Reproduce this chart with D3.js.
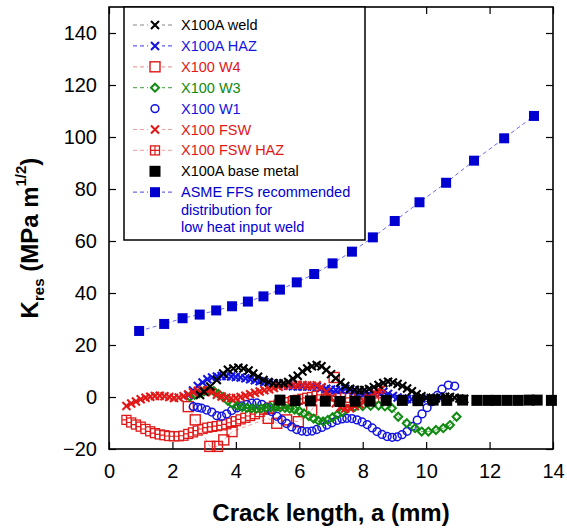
<!DOCTYPE html>
<html>
<head>
<meta charset="utf-8">
<script src="https://cdn.jsdelivr.net/npm/d3@7"></script>
<style>
  body { margin: 0; background: #fff; }
  svg { font-family: "Liberation Sans", Arial, sans-serif; }
</style>
</head>
<body>
<div id="chart"></div>
<script>
// axis ticks
const xTicks = [0, 2, 4, 6, 8, 10, 12, 14];
const yTicks = [-20, 0, 20, 40, 60, 80, 100, 120, 140];

// data: [crack length a (mm), Kres (MPa m^1/2)]
const weld = [[2.87,0.8],[3.0,2],[3.19,4],[3.4,6.5],[3.6,9],[3.75,10.5],[3.92,11],[4.08,11.3],[4.24,11],[4.4,10.2],[4.55,9],[4.7,7.8],[4.87,6.5],[5.03,5.8],[5.18,5.3],[5.35,5.2],[5.5,5.3],[5.65,5.8],[5.8,7],[5.95,8.2],[6.1,9.8],[6.25,11],[6.4,11.8],[6.55,12.3],[6.7,11.8],[6.85,10.4],[7.0,8.8],[7.15,7.2],[7.3,5.6],[7.45,4.2],[7.6,3.2],[7.75,2.8],[7.9,2.6],[8.05,2.7],[8.2,3.1],[8.35,3.8],[8.5,4.6],[8.65,5.4],[8.8,5.9],[8.95,5.6],[9.1,5],[9.25,4.2],[9.4,3.3],[9.55,2.2],[9.7,1.1],[9.85,0.3],[10.0,-0.3],[10.15,-0.5],[10.3,-0.5],[10.45,-0.2],[10.6,0.1],[10.75,0],[10.9,-0.3],[11.05,-0.6],[11.2,-0.8]];
const haz = [[2.5,0.8],[2.65,2.5],[2.8,4.2],[2.95,5.6],[3.1,6.8],[3.25,7.5],[3.4,7.9],[3.55,8.1],[3.7,8.1],[3.85,7.9],[4.0,7.7],[4.15,7.5],[4.3,7.2],[4.45,6.8],[4.6,6.4],[4.75,6.1],[4.9,5.8],[5.05,5.5],[5.2,5.2],[5.35,4.9],[5.5,4.6],[5.65,4.3],[5.8,4.1],[5.95,4],[6.1,4],[6.25,4],[6.4,4],[6.55,3.9],[6.7,3.6],[6.85,3.2],[7.0,2.9],[7.15,2.7],[7.3,2.9],[7.45,3.2],[7.6,2.8],[7.75,2.2],[7.9,1.6],[8.05,1.3],[8.2,1.3],[8.35,1.6],[8.5,2.2],[8.65,2.0],[8.8,1.2],[8.95,0.4],[9.1,-0.2],[9.25,-0.6],[9.4,-0.8],[9.55,-0.9],[9.7,-0.8],[9.85,-0.6],[10.0,-0.5],[10.15,-0.5],[10.3,-0.5],[10.45,-0.6]];
const w4 = [[2.5,-3.7],[2.72,-8.8],[3.18,-19],[3.42,-19],[3.62,-16.5],[3.88,-13.3],[5.02,-8.2],[5.29,-10.1],[5.6,-8.8],[5.97,-9.5],[6.39,-5],[7.1,7.5]];
const w3 = [[2.55,0.1],[2.7,0.8],[2.85,1.4],[3.0,2.2],[3.15,2.8],[3.3,2.3],[3.45,1.2],[3.6,0],[3.75,-1.5],[3.9,-2.7],[4.05,-3.4],[4.2,-3.9],[4.35,-4.2],[4.5,-4.4],[4.65,-4.5],[4.8,-4.4],[4.95,-4.1],[5.1,-3.9],[5.25,-3.9],[5.4,-4.0],[5.55,-4.2],[5.7,-4.5],[5.85,-4.8],[6.0,-5.4],[6.15,-6.3],[6.3,-7.3],[6.45,-8.3],[6.6,-9.1],[6.75,-9.4],[6.9,-8.8],[7.05,-7.8],[7.2,-6.8],[7.35,-5.8],[7.5,-4.6],[7.75,-3.8],[8.0,-3.5],[8.25,-3.4],[8.5,-3.3],[8.7,-3.6],[8.92,-4.3],[9.12,-7.6],[9.39,-10.1],[9.65,-12],[9.86,-13.3],[10.07,-13.3],[10.31,-12.7],[10.54,-12],[10.75,-10.8],[10.96,-7.6]];
const w1 = [[2.66,-3.7],[2.8,-4.0],[2.92,-4.3],[3.08,-5],[3.24,-5.8],[3.4,-7.2],[3.55,-7.4],[3.71,-6.5],[3.87,-5.2],[4.03,-4.2],[4.18,-3.4],[4.34,-2.8],[4.5,-2.4],[4.66,-2.3],[4.82,-2.8],[4.97,-4.0],[5.13,-5.6],[5.29,-7.4],[5.45,-8.8],[5.6,-10.2],[5.76,-11.5],[5.92,-12.5],[6.08,-13.1],[6.24,-13.3],[6.4,-13.1],[6.55,-12.5],[6.71,-11.7],[6.87,-10.8],[7.03,-9.9],[7.19,-9.0],[7.35,-8.4],[7.5,-8.2],[7.66,-8.3],[7.82,-8.8],[7.98,-9.6],[8.14,-10.6],[8.3,-11.9],[8.45,-13.3],[8.61,-14.4],[8.77,-15.2],[8.93,-15.5],[9.09,-15.3],[9.24,-14.5],[9.4,-13.2],[9.56,-11.3],[9.72,-8.9],[9.87,-6.5],[10.03,-4.1],[10.19,-1.8],[10.35,0.6],[10.5,3.0],[10.7,4.6],[10.9,4.2]];
const fsw = [[0.55,-3.5],[0.7,-2.5],[0.85,-1.7],[1.0,-0.9],[1.15,-0.3],[1.3,0.1],[1.45,0.4],[1.6,0.5],[1.75,0.3],[1.9,0],[2.05,-0.4],[2.2,-0.2],[2.35,0.3],[2.5,1],[2.65,1.8],[2.8,2.4],[2.95,2.7],[3.1,2.5],[3.25,1.8],[3.4,0.9],[3.55,0.2],[3.7,-0.3],[3.85,-0.5],[4.0,-0.4],[4.15,0],[4.3,0.5],[4.45,1.1],[4.6,1.6],[4.75,2.1],[4.9,2.6],[5.05,3.0],[5.2,3.5],[5.35,3.9],[5.5,4.3],[5.65,4.6],[5.8,4.7],[5.95,4.7],[6.1,4.6],[6.25,4.4],[6.4,4.3],[6.55,4.5],[6.7,3.8],[6.85,2.0],[7.0,-0.3],[7.15,-2.4],[7.3,-3.9],[7.45,-4.4],[7.6,-4.3],[7.75,-3.6],[7.9,-2.8],[8.05,-1.8],[8.2,0],[8.35,1.6],[8.5,2.7],[8.6,3.2]];
const fswHaz = [[0.55,-8.8],[0.7,-9.8],[0.85,-10.6],[1.0,-11.4],[1.15,-12.3],[1.3,-13.2],[1.45,-13.9],[1.6,-14.4],[1.75,-14.7],[1.9,-15],[2.05,-15.1],[2.2,-15.1],[2.35,-14.9],[2.5,-14.2],[2.65,-13.6],[2.8,-12.9],[2.95,-12.3],[3.1,-11.8],[3.25,-11.5],[3.4,-11.2],[3.55,-10.9],[3.7,-10.5],[3.85,-9.9],[4.0,-9.3],[4.15,-8.6],[4.3,-8],[4.45,-7.3],[4.6,-6.6],[4.75,-5.8],[4.9,-4.9],[5.05,-4.1],[5.2,-3.4],[5.35,-2.9],[5.5,-2.4],[5.65,-2],[5.8,-1.5],[5.95,-1.1],[6.1,-0.7],[6.25,-0.3],[6.4,0],[6.55,0.5],[6.7,0.8],[6.85,0.8],[7.0,0.5],[7.15,0.2],[7.3,0],[7.45,-0.2],[7.6,-0.3],[7.75,-0.4],[7.9,-0.4],[8.05,-0.4],[8.2,-0.3],[8.35,-0.3],[8.5,-0.3]];
const baseMetal = [[5.39,-1.2],[5.87,-1.4],[6.35,-1.5],[6.82,-1.6],[7.28,-1.7],[7.76,-1.6],[8.23,-1.6],[8.74,-1.3],[9.25,-1.3],[9.74,-1.4],[10.22,-1.2],[10.65,-1.3],[11.15,-1.2],[11.6,-1.3],[11.95,-1.3],[12.2,-1.3],[12.55,-1.3],[12.9,-1.3],[13.25,-1.2],[13.5,-1.2],[13.95,-1.3]];
const asme = [[0.95,25.4],[1.74,28.1],[2.32,30.3],[2.86,31.7],[3.38,33.3],[3.88,34.9],[4.38,36.7],[4.87,38.7],[5.39,41.3],[5.92,44.1],[6.47,47.3],[7.05,51.4],[7.66,55.9],[8.32,61.4],[9.01,67.7],[9.79,74.9],[10.63,82.4],[11.51,90.9],[12.46,99.5],[13.40,108.1]];

// series styles (draw order = bottom to top)
const series = [
  { name: "ASME", data: asme, marker: "fillsq", color: "#0000d0", line: "#6a6af0", size: 10 },
  { name: "FSW HAZ", data: fswHaz, marker: "gridsq", color: "#e01818", line: "#f4b0b0", size: 9 },
  { name: "W4", data: w4, marker: "square", color: "#e01818", line: "#f0a0a0", size: 10 },
  { name: "W1", data: w1, marker: "circle", color: "#1414e0", line: null, size: 9 },
  { name: "W3", data: w3, marker: "diamond", color: "#108a10", line: "#60b060", size: 8 },
  { name: "HAZ", data: haz, marker: "x", color: "#1414e0", line: "#6060f0", size: 8 },
  { name: "FSW", data: fsw, marker: "x", color: "#e01818", line: "#f0a0a0", size: 8 },
  { name: "weld", data: weld, marker: "x", color: "#000", line: "#888", size: 8 },
  { name: "base", data: baseMetal, marker: "fillsq", color: "#000", line: null, size: 11 }
];

const legendItems = [
  { label: ["X100A weld"], s: "weld", text: "#000" },
  { label: ["X100A HAZ"], s: "HAZ", text: "#1414e0" },
  { label: ["X100 W4"], s: "W4", text: "#e01818" },
  { label: ["X100 W3"], s: "W3", text: "#108a10" },
  { label: ["X100 W1"], s: "W1", text: "#1414e0" },
  { label: ["X100 FSW"], s: "FSW", text: "#e01818" },
  { label: ["X100 FSW HAZ"], s: "FSW HAZ", text: "#e01818" },
  { label: ["X100A base metal"], s: "base", text: "#000" },
  { label: ["ASME FFS recommended", "distribution for", "low heat input weld"], s: "ASME", text: "#0000d0" }
];

const W = 567, H = 529;
const margin = { top: 7, right: 14, bottom: 80, left: 109 };
const width = W - margin.left - margin.right;
const height = H - margin.top - margin.bottom;

const svg = d3.select("#chart").append("svg").attr("width", W).attr("height", H);
const g = svg.append("g").attr("transform", `translate(${margin.left},${margin.top})`);

const x = d3.scaleLinear().domain([0, 14]).range([0, width]);
const y = d3.scaleLinear().domain([-20, 150]).range([height, 0]);

// axes with inward ticks
g.append("g")
  .attr("transform", `translate(0,${height})`)
  .call(d3.axisBottom(x).tickValues(xTicks).tickSizeInner(-7).tickSizeOuter(0).tickPadding(15))
  .call((a) => a.select(".domain").remove());
g.append("g")
  .call(d3.axisTop(x).tickValues(xTicks).tickSizeInner(-7).tickSizeOuter(0).tickFormat(""))
  .call((a) => a.select(".domain").remove());
g.append("g")
  .call(d3.axisLeft(y).tickValues(yTicks).tickSizeInner(-7).tickSizeOuter(0).tickPadding(12))
  .call((a) => a.select(".domain").remove());
g.append("g")
  .attr("transform", `translate(${width},0)`)
  .call(d3.axisRight(y).tickValues(yTicks).tickSizeInner(-7).tickSizeOuter(0).tickFormat(""))
  .call((a) => a.select(".domain").remove());

g.selectAll(".tick line").attr("stroke", "#000").attr("stroke-width", 1.2);
g.selectAll(".tick text").attr("font-size", 20).attr("fill", "#000").attr("font-family", "Liberation Sans, Arial, sans-serif");

// frame
g.append("rect")
  .attr("width", width)
  .attr("height", height)
  .attr("fill", "none")
  .attr("stroke", "#000")
  .attr("stroke-width", 1.6);

// marker drawing
function drawMarker(sel, s) {
  const h = s.size / 2;
  const c = s.color;
  if (s.marker === "x") {
    sel.append("path").attr("d", `M${-h},${-h}L${h},${h}M${-h},${h}L${h},${-h}`)
      .attr("stroke", c).attr("stroke-width", 2.1).attr("fill", "none");
  } else if (s.marker === "square") {
    sel.append("rect").attr("x", -h).attr("y", -h).attr("width", s.size).attr("height", s.size)
      .attr("fill", "none").attr("stroke", c).attr("stroke-width", 1.4);
  } else if (s.marker === "gridsq") {
    sel.append("rect").attr("x", -h).attr("y", -h).attr("width", s.size).attr("height", s.size)
      .attr("fill", "#fff").attr("stroke", c).attr("stroke-width", 1.3);
    sel.append("path").attr("d", `M${-h},0L${h},0M0,${-h}L0,${h}`)
      .attr("stroke", c).attr("stroke-width", 1.2);
  } else if (s.marker === "diamond") {
    sel.append("path").attr("d", `M0,${-h}L${h},0L0,${h}L${-h},0Z`)
      .attr("fill", "none").attr("stroke", c).attr("stroke-width", 2);
  } else if (s.marker === "circle") {
    sel.append("circle").attr("r", h - 0.6).attr("fill", "none").attr("stroke", c).attr("stroke-width", 1.5);
  } else if (s.marker === "fillsq") {
    sel.append("rect").attr("x", -h).attr("y", -h).attr("width", s.size).attr("height", s.size).attr("fill", c);
  }
}

const line = d3.line().x((d) => x(d[0])).y((d) => y(d[1]));

const plot = g.append("g").attr("class", "plot");
series.forEach((s) => {
  const sg = plot.append("g").attr("class", "series");
  if (s.line) {
    sg.append("path")
      .datum(s.data)
      .attr("d", line)
      .attr("fill", "none")
      .attr("stroke", s.line)
      .attr("stroke-width", 1)
      .attr("stroke-dasharray", "4,3");
  }
  sg.selectAll(".pt")
    .data(s.data)
    .enter()
    .append("g")
    .attr("class", "pt")
    .attr("transform", (d) => `translate(${x(d[0])},${y(d[1])})`)
    .each(function () { drawMarker(d3.select(this), s); });
});

// legend
const legend = svg.append("g").attr("class", "legend").attr("transform", "translate(124,7)");
legend.append("rect")
  .attr("width", 241).attr("height", 233)
  .attr("fill", "#fff").attr("stroke", "#000").attr("stroke-width", 1.5);

legendItems.forEach((item, i) => {
  const s = series.find((d) => d.name === item.s);
  const row = legend.append("g").attr("transform", `translate(0,${18 + i * 20.9})`);
  if (s.line) {
    row.append("line").attr("x1", 9).attr("x2", 51).attr("y1", 0).attr("y2", 0)
      .attr("stroke", s.line).attr("stroke-width", 1.2).attr("stroke-dasharray", "4,3");
  }
  const m = row.append("g").attr("transform", "translate(31,0)");
  m.append("rect").attr("x", -7).attr("y", -7).attr("width", 14).attr("height", 14).attr("fill", "#fff");
  drawMarker(m, s);
  item.label.forEach((t, j) => {
    row.append("text")
      .attr("x", 57)
      .attr("y", j * 17.5)
      .attr("dy", "0.35em")
      .attr("font-size", 14.5)
      .attr("fill", item.text)
      .text(t);
  });
});

// axis titles
svg.append("text")
  .attr("x", margin.left + width / 2)
  .attr("y", 521)
  .attr("text-anchor", "middle")
  .attr("font-size", 24)
  .attr("font-weight", "bold")
  .text("Crack length, a (mm)");

const yl = svg.append("text")
  .attr("transform", `translate(38,${margin.top + height / 2 + 10}) rotate(-90)`)
  .attr("text-anchor", "middle")
  .attr("font-size", 24)
  .attr("font-weight", "bold");
yl.append("tspan").text("K");
yl.append("tspan").attr("font-size", 15).attr("dy", 6).text("res");
yl.append("tspan").attr("dy", -6).text(" (MPa m");
yl.append("tspan").attr("font-size", 15).attr("dy", -12).text("1/2");
yl.append("tspan").attr("dy", 12).text(")");
</script>
</body>
</html>
